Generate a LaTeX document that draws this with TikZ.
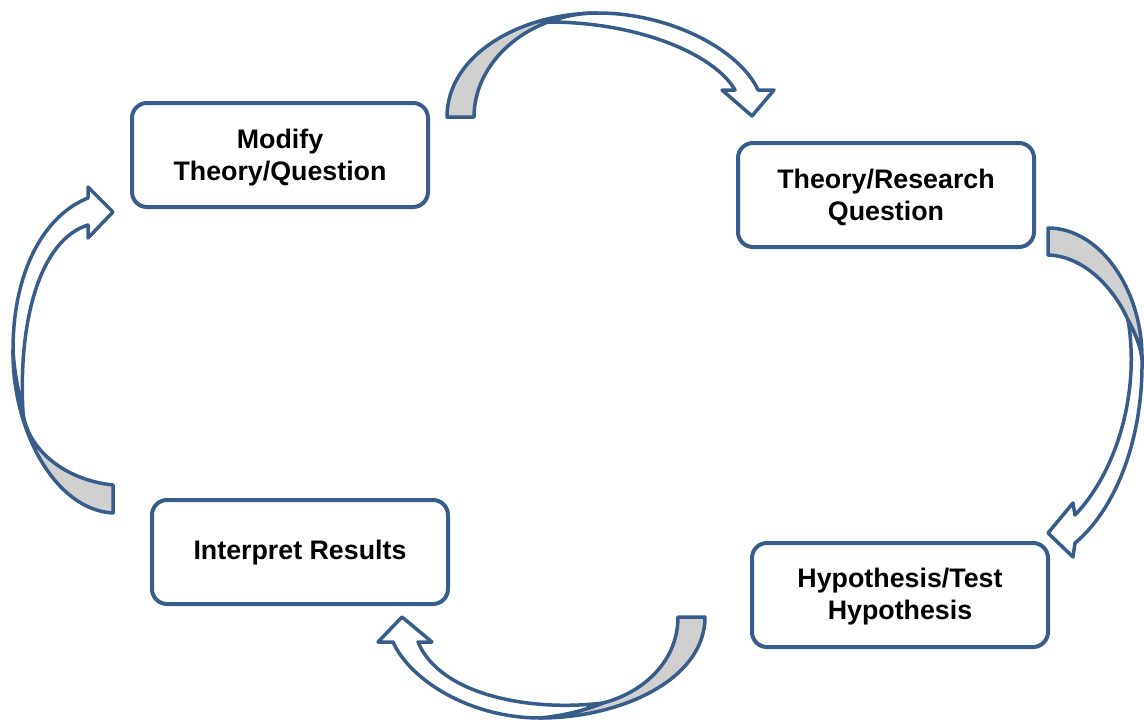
\documentclass[tikz,border=0pt]{standalone}
\usepackage{fontspec}
\setmainfont{Liberation Sans}
\begin{document}
\begin{tikzpicture}[x=1pt,y=-1pt,
  stepbox/.style={draw=edgeblue,line width=4pt,rounded corners=15pt,fill=white,
    minimum width=296pt,minimum height=104pt},
  steptext/.style={align=center,inner sep=0pt,
    font=\fontsize{26.8}{32}\selectfont\bfseries},
  backpart/.style={draw=edgeblue,line width=3.5pt,fill=backgray,line join=round},
  bodypart/.style={draw=edgeblue,line width=3.5pt,fill=white,line join=round}]
\definecolor{edgeblue}{RGB}{56,93,138}
\definecolor{backgray}{RGB}{208,208,208}
\useasboundingbox (0,0) rectangle (1144,720);

% boxes
\node[stepbox] (modify) at (280,155) {};
\node[steptext] (modifyt) at ([yshift=-3pt]modify.center) {Modify\\Theory/Question};
\node[stepbox] (theory) at (886,195) {};
\node[steptext] (theoryt) at ([yshift=-2pt]theory.center) {Theory/Research\\Question};
\node[stepbox] (hypo) at (900,595) {};
\node[steptext] (hypot) at ([yshift=-2pt]hypo.center) {Hypothesis/Test\\Hypothesis};
\node[stepbox] (interp) at (300,552) {};
\node[steptext] (interpt) at ([yshift=-1pt]interp.center) {Interpret Results};

% top arrow
\draw[backpart] (447,117) .. controls (447,55) and (520,13) .. (598,13)
  .. controls (580,13) and (565,16) .. (548,22)
  .. controls (505,38) and (474,75) .. (474,117) -- cycle;
\draw[bodypart] (548,22) .. controls (565,16) and (580,13) .. (598,13)
  .. controls (670,13) and (740,50) .. (758,90)
  -- (774,90) -- (752,116) -- (722,90) -- (735,90)
  .. controls (715,55) and (640,22) .. (548,22) -- cycle;

% right arrow
\draw[backpart] (1048,228) .. controls (1100,228) and (1143,290) .. (1142,360)
  .. controls (1141,348) and (1136,335) .. (1128,320)
  .. controls (1115,290) and (1085,256) .. (1048,255) -- cycle;
\draw[bodypart] (1128,320) .. controls (1136,335) and (1141,348) .. (1142,360)
  .. controls (1143,440) and (1115,510) .. (1075,543)
  -- (1073,557) -- (1048,533) -- (1073,503) -- (1075,515)
  .. controls (1118,470) and (1140,390) .. (1128,320) -- cycle;

% bottom arrow
\draw[backpart] (705,617) .. controls (705,680) and (620,718) .. (540,718)
  .. controls (560,716) and (580,712) .. (603,703)
  .. controls (645,692) and (678,660) .. (678,617) -- cycle;
\draw[bodypart] (603,703) .. controls (580,712) and (560,716) .. (540,718)
  .. controls (470,718) and (410,680) .. (393,642)
  -- (378,642) -- (402,617) -- (432,642) -- (418,642)
  .. controls (440,695) and (530,712) .. (603,703) -- cycle;

% left arrow
\draw[backpart] (113,513) .. controls (55,510) and (12,430) .. (13,350)
  .. controls (14,370) and (18,390) .. (23,413)
  .. controls (28,450) and (65,480) .. (113,485) -- cycle;
\draw[bodypart] (23,413) .. controls (18,390) and (14,370) .. (13,350)
  .. controls (13,270) and (45,215) .. (88,198)
  -- (88,187) -- (113,212) -- (88,238) -- (88,225)
  .. controls (40,240) and (18,320) .. (23,413) -- cycle;
\end{tikzpicture}
\end{document}
